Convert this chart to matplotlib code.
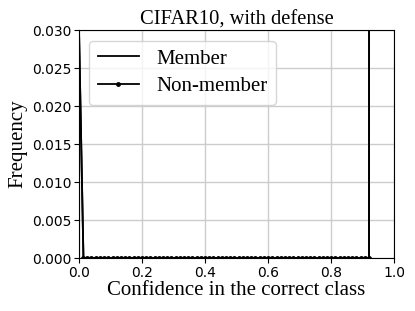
import matplotlib
matplotlib.use('Agg')
import matplotlib.pyplot as plt

# bin positions (confidence) and frequencies
conf = [0.0000, 0.0146, 0.0267, 0.0400, 0.0533, 0.0667, 0.0800, 0.0933, 0.1067, 0.1200,
        0.1333, 0.1467, 0.1600, 0.1733, 0.1867, 0.2000, 0.2133, 0.2267, 0.2400, 0.2533,
        0.2667, 0.2800, 0.2933, 0.3067, 0.3200, 0.3333, 0.3467, 0.3600, 0.3733, 0.3867,
        0.4000, 0.4133, 0.4267, 0.4400, 0.4533, 0.4667, 0.4800, 0.4933, 0.5067, 0.5200,
        0.5333, 0.5467, 0.5600, 0.5733, 0.5867, 0.6000, 0.6133, 0.6267, 0.6400, 0.6533,
        0.6667, 0.6800, 0.6933, 0.7067, 0.7200, 0.7333, 0.7467, 0.7600, 0.7733, 0.7867,
        0.8000, 0.8133, 0.8267, 0.8400, 0.8533, 0.8667, 0.8800, 0.8933, 0.9067, 0.9200,
        0.9240]
member = [0.031] + [0.0] * 69 + [0.60]
nonmember = [0.031] + [0.0] * 69 + [0.60]

serif = ['Liberation Serif', 'DejaVu Serif']

fig = plt.figure(figsize=(4.15, 3.11), dpi=100)
ax = fig.add_axes([0.19, 0.17, 0.76, 0.733])

ax.plot(conf, member, color='black', lw=1.3, label='Member')
ax.plot(conf, nonmember, color='black', lw=1.3, marker='.', markersize=5,
        label='Non-member')

ax.set_xlim(0, 1)
ax.set_ylim(0, 0.03)
ax.set_xticks([0.0, 0.2, 0.4, 0.6, 0.8, 1.0])
ax.set_yticks([0.0, 0.005, 0.01, 0.015, 0.02, 0.025, 0.03])
ax.set_yticklabels(['0.000', '0.005', '0.010', '0.015', '0.020', '0.025', '0.030'])
ax.tick_params(labelsize=10, length=3.5, pad=2)
ax.grid(True, color='#cccccc', lw=1.0)

ax.set_title('CIFAR10, with defense', family=serif, fontsize=14.8, pad=4)
ax.set_xlabel('Confidence in the correct class', family=serif, fontsize=15, labelpad=1)
ax.set_ylabel('Frequency', family=serif, fontsize=15, labelpad=3)
ax.legend(loc='upper left', prop={'family': serif, 'size': 15}, handlelength=2.0,
          borderpad=0.4, labelspacing=0.4)

fig.savefig('out.png', dpi=100)
